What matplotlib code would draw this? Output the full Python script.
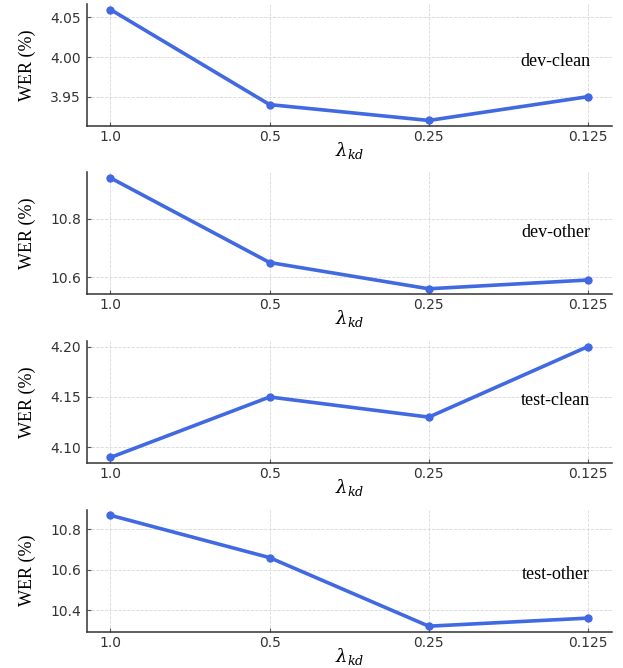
import matplotlib
matplotlib.use("Agg")
import matplotlib.pyplot as plt

# lambda_kd settings, evaluated left to right
lambdas = ["1.0", "0.5", "0.25", "0.125"]

dev_clean = [4.06, 3.94, 3.92, 3.95]
dev_other = [10.94, 10.65, 10.56, 10.59]
test_clean = [4.09, 4.15, 4.13, 4.20]
test_other = [10.87, 10.66, 10.32, 10.36]

sets = ["dev-clean", "dev-other", "test-clean", "test-other"]
series = [dev_clean, dev_other, test_clean, test_other]
yticks = [[3.95, 4.00, 4.05], [10.6, 10.8], [4.10, 4.15, 4.20], [10.4, 10.6, 10.8]]
yfmt = ["{:.2f}", "{:.1f}", "{:.2f}", "{:.1f}"]
label_y = [0.525, 0.51, 0.515, 0.47]

plt.rcParams["mathtext.fontset"] = "dejavuserif"

fig = plt.figure(figsize=(6.23, 6.68), dpi=100)

# axes boxes: bottom edges in figure fraction
bottoms = [0.8114, 0.5594, 0.3069, 0.0543]
left, width, height = 0.139, 0.843, 0.1826

for i in range(4):
    ax = fig.add_axes([left, bottoms[i], width, height])
    xs = range(len(lambdas))
    ax.plot(xs, series[i], color="#4169e1", lw=2.6, marker="o", markersize=5)

    ax.set_xticks(list(xs))
    ax.set_xticklabels(lambdas)
    ax.set_yticks(yticks[i])
    ax.set_yticklabels([yfmt[i].format(v) for v in yticks[i]])

    ax.grid(True, ls="--", lw=0.6, color="#d8d8d8")
    ax.set_axisbelow(True)
    for s in ["top", "right"]:
        ax.spines[s].set_visible(False)
    for s in ["left", "bottom"]:
        ax.spines[s].set_color("#333333")
        ax.spines[s].set_linewidth(1.1)
    ax.tick_params(direction="in", length=3, width=0.8, colors="#555555",
                   labelsize=10, labelcolor="#333333")
    ax.tick_params(axis="x", pad=3)
    ax.tick_params(axis="y", pad=4)

    ax.set_ylabel("WER (%)", family="Liberation Serif", fontsize=13, labelpad=10)
    ax.set_xlabel(r"$\lambda_{kd}$", fontsize=13, labelpad=-3)

    ax.text(0.893, label_y[i], sets[i], transform=ax.transAxes, ha="center",
            va="center", family="Liberation Serif", fontsize=13)

fig.savefig("out.png", dpi=100)
